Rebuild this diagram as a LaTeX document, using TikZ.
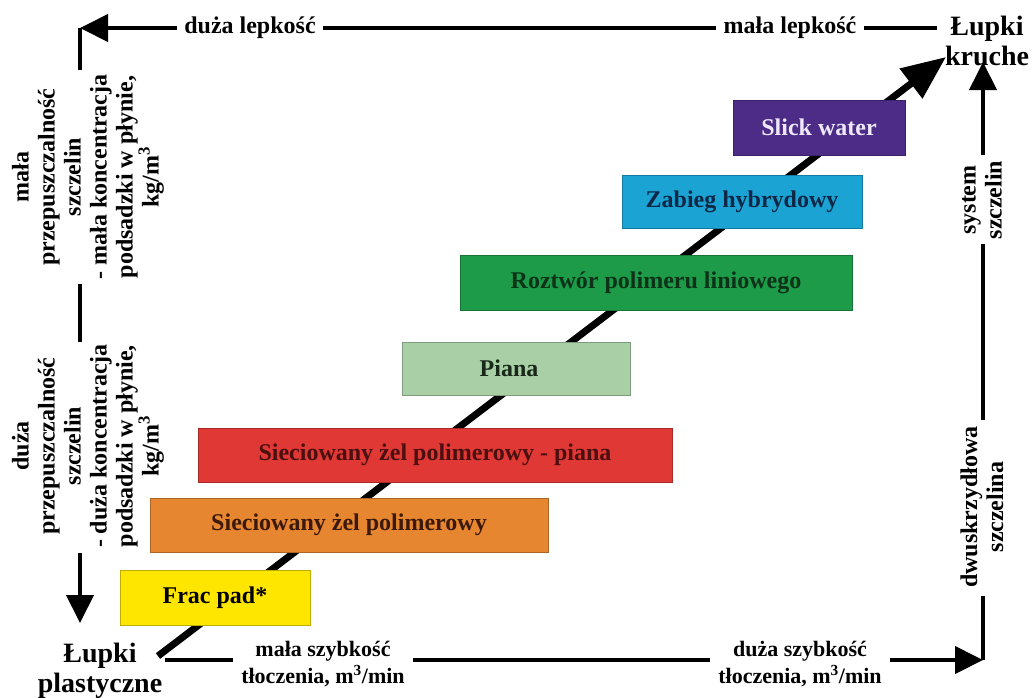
\documentclass[tikz,border=0pt]{standalone}
\usepackage{fontspec}
\setmainfont{Liberation Serif}
\usetikzlibrary{arrows.meta}
\definecolor{cyel}{RGB}{255,230,0}
\definecolor{cora}{RGB}{230,134,48}
\definecolor{cred}{RGB}{224,56,52}
\definecolor{clgr}{RGB}{168,207,165}
\definecolor{cgrn}{RGB}{30,155,72}
\definecolor{ccya}{RGB}{27,163,211}
\definecolor{cpur}{RGB}{76,44,135}
\definecolor{tora}{RGB}{60,25,10}
\definecolor{tred}{RGB}{75,15,15}
\definecolor{tlgr}{RGB}{25,40,25}
\definecolor{tgrn}{RGB}{12,50,24}
\definecolor{tcya}{RGB}{12,40,70}
\definecolor{tpur}{RGB}{238,232,250}
\begin{document}
\begin{tikzpicture}[x=1pt,y=-1pt,
  frame/.style={line width=4pt},
  tipA/.style={-{Triangle[length=28pt,width=27pt]}},
  box/.style={fill=#1, draw=#1!75!black, line width=0.7pt, inner sep=0pt,
    font=\bfseries\fontsize{24}{26}\selectfont},
  lbl/.style={font=\bfseries\fontsize{24}{26}\selectfont, align=center, inner xsep=7pt, inner ysep=2pt},
  lblb/.style={font=\bfseries\fontsize{22}{27}\selectfont, align=center, inner xsep=8pt, inner ysep=2pt},
  big/.style={font=\bfseries\fontsize{28}{30}\selectfont, align=center, inner sep=2pt}]
\useasboundingbox (0,0) rectangle (1033,697);

% corner coordinates
\coordinate (tl) at (80,28);
\coordinate (tr) at (937,28);
\coordinate (br) at (983,660);

% top labels
\node[lbl] (duza) at (250,28) {duża lepkość};
\node[lbl] (mala) at (790,28) {mała lepkość};
\node[big] (kruche) at (987,41) {Łupki\\kruche};

% left labels
\node[lbl, rotate=90, inner sep=0pt] (lt1) at (88,177) {mała\\przepuszczalność\\szczelin\\- mała koncentracja\\podsadzki w płynie,\\kg/m\textsuperscript{3}};
\node[lbl, rotate=90, inner sep=0pt] (lt2) at (88,446) {duża\\przepuszczalność\\szczelin\\- duża koncentracja\\podsadzki w płynie,\\kg/m\textsuperscript{3}};
\node[big] (plast) at (100,671) {Łupki\\plastyczne};

% bottom labels
\node[lblb] (ms) at (323,664) {mała szybkość\\tłoczenia, m\textsuperscript{3}/min};
\node[lblb] (ds) at (800,664) {duża szybkość\\tłoczenia, m\textsuperscript{3}/min};

% right labels
\node[lbl, rotate=90, inner sep=0pt] (rs) at (982,200) {system\\szczelin};
\node[lbl, rotate=90, inner sep=0pt] (rd) at (982,507) {dwuskrzydłowa\\szczelina};

% frame connectors
\coordinate (l1) at (80,70);
\coordinate (l2) at (80,284);
\coordinate (l3) at (80,342);
\coordinate (l4) at (80,553);
\coordinate (l5) at (80,623);
\coordinate (b0) at (165,660);
\coordinate (r1) at (983,596);
\coordinate (r2) at (983,420);
\coordinate (r3) at (983,244);
\coordinate (r4) at (983,155);
\coordinate (r5) at (983,62);

\draw[frame] (tr) -- (mala.east);
\draw[frame] (mala.west) -- (duza.east);
\draw[frame, tipA] (duza.west) -- (tl);
\draw[frame] (tl) -- (l1);
\draw[frame] (l2) -- (l3);
\draw[frame, tipA] (l4) -- (l5);
\draw[frame] (b0) -- (ms.west |- b0);
\draw[frame] (ms.east |- b0) -- (ds.west |- b0);
\draw[frame, tipA] (ds.east |- b0) -- (br);
\draw[frame] (br) -- (r1);
\draw[frame] (r2) -- (r3);
\draw[frame, tipA] (r4) -- (r5);

% diagonal arrow
\coordinate (dstart) at (158,656);
\coordinate (dend) at (946,57);
\draw[line width=7pt, -{Triangle[length=44pt,width=36pt]}] (dstart) -- (dend);

% boxes
\node[box=cyel, minimum width=190pt, minimum height=55pt, text=black] (frac) at (215,597.5) {Frac pad*};
\node[box=cora, minimum width=398pt, minimum height=54pt, text=tora] (siec) at (349,525) {Sieciowany żel polimerowy};
\node[box=cred, minimum width=474pt, minimum height=54pt, text=tred] (sp) at (435,455) {Sieciowany żel polimerowy - piana};
\node[box=clgr, minimum width=228pt, minimum height=53pt, text=tlgr] (piana) at (516,368.5) {\hspace*{-14pt}Piana};
\node[box=cgrn, minimum width=392pt, minimum height=55pt, text=tgrn] (roz) at (656,282.5) {Roztwór polimeru liniowego};
\node[box=ccya, minimum width=240pt, minimum height=53pt, text=tcya] (zab) at (742,201.5) {Zabieg hybrydowy};
\node[box=cpur, minimum width=172pt, minimum height=55pt, text=tpur] (slick) at (819,127.5) {Slick water};
\end{tikzpicture}
\end{document}
